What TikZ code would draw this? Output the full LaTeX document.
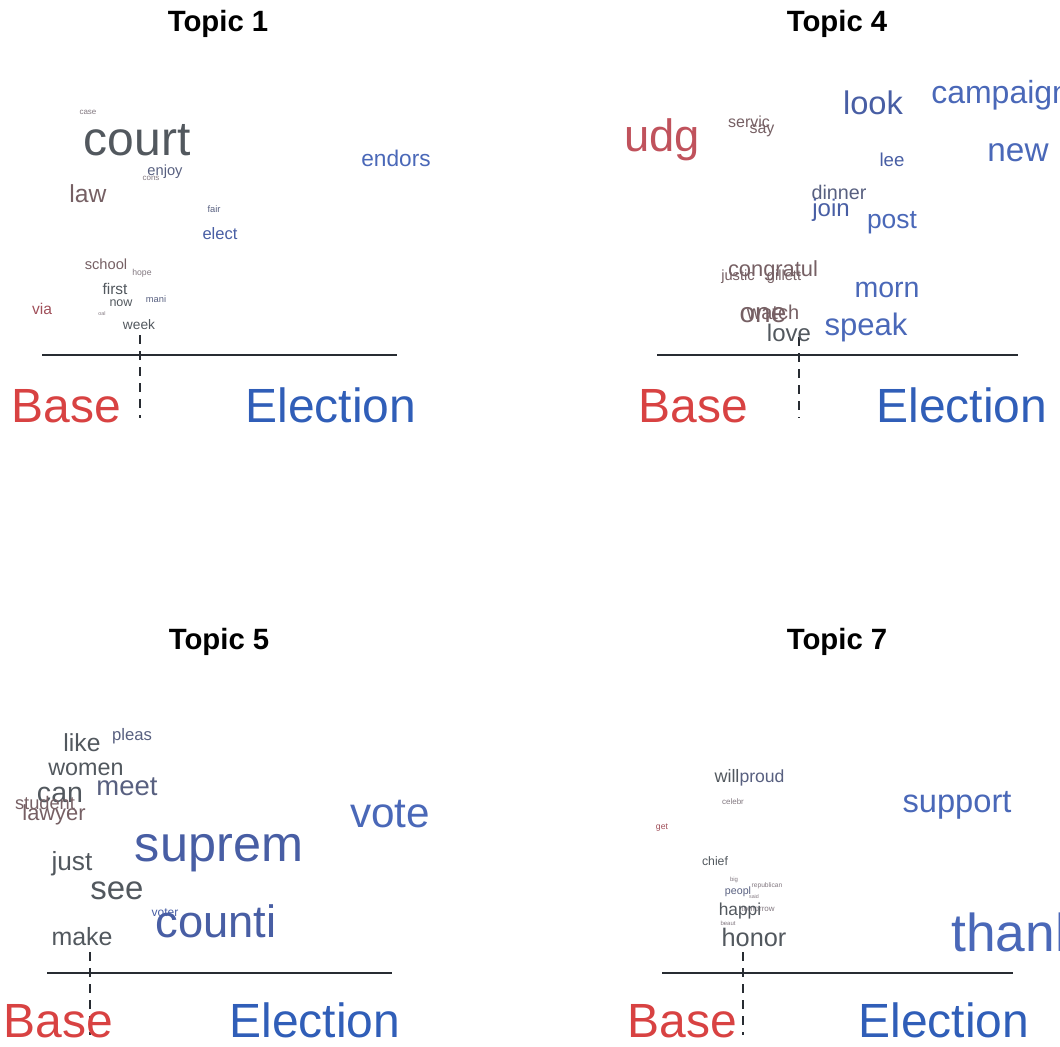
\documentclass[tikz,border=0pt]{standalone}
\usepackage{fontspec}
\setmainfont{Liberation Sans}
\definecolor{cBase}{RGB}{216,66,66}
\definecolor{cElec}{RGB}{48,94,184}
\definecolor{wRed}{RGB}{160,80,90}
\definecolor{wRedS}{RGB}{192,82,92}
\definecolor{wBrown}{RGB}{118,96,100}
\definecolor{wGrey}{RGB}{82,88,94}
\definecolor{wGreyB}{RGB}{88,96,128}
\definecolor{wBlue}{RGB}{72,94,164}
\definecolor{wBlueL}{RGB}{74,104,184}
\definecolor{wLight}{RGB}{130,120,128}
\definecolor{axis}{RGB}{40,44,50}
\tikzset{
  fs/.style={font=\fontsize{#1}{#1}\selectfont},
  wrd/.style={inner sep=0pt, anchor=center},
  ttl/.style={inner sep=0pt, anchor=base, font=\fontsize{22}{22}\selectfont\bfseries},
  lab/.style={inner sep=0pt, anchor=base, font=\fontsize{36}{36}\selectfont},
  hline/.style={draw=axis, line width=1.5pt},
  vline/.style={draw=axis, line width=1.3pt, dash pattern=on 7pt off 5pt},
}
\begin{document}
\begin{tikzpicture}[x=0.75pt,y=-0.75pt]
\useasboundingbox (0,0) rectangle (1060,1046);
\clip (0,0) rectangle (1060,1046);
% ---------------- Topic 1 ----------------
\node[ttl] (t1) at (218,31) {Topic 1};
\coordinate (a1l) at (42,355);
\coordinate (a1r) at (397,355);
\coordinate (d1t) at (140,335);
\coordinate (d1b) at (140,418);
\draw[hline] (a1l) -- (a1r);
\draw[vline] (d1t) -- (d1b);
\node[lab, text=cBase] (b1) at (66,422) {Base};
\node[lab, text=cElec] (e1) at (331,422) {Election};
\node[wrd, fs=6, text=wLight] (w1a) at (88,112) {case};
\node[wrd, fs=36, text=wGrey] (w1b) at (137,140) {court};
\node[wrd, fs=6, text=wLight] (w1c) at (151,178) {cons};
\node[wrd, fs=11, text=wGreyB] (w1d) at (165,172) {enjoy};
\node[wrd, fs=18.5, text=wBrown] (w1e) at (88,194) {law};
\node[wrd, fs=17, text=wBlueL] (w1f) at (396,158) {endors};
\node[wrd, fs=7, text=wGreyB] (w1g) at (214,209) {fair};
\node[wrd, fs=12.4, text=wBlue] (w1h) at (220,234) {elect};
\node[wrd, fs=11, text=wBrown] (w1i) at (106,264) {school};
\node[wrd, fs=6.5, text=wLight] (w1j) at (142,273) {hope};
\node[wrd, fs=11.6, text=wGrey] (w1k) at (115,289) {first};
\node[wrd, fs=9.4, text=wGrey] (w1l) at (121,303) {now};
\node[wrd, fs=7, text=wGreyB] (w1m) at (156,299) {mani};
\node[wrd, fs=11.7, text=wRed] (w1n) at (42,309) {via};
\node[wrd, fs=4, text=wLight] (w1o) at (102,314) {oal};
\node[wrd, fs=10.3, text=wGrey] (w1p) at (139,325) {week};
% ---------------- Topic 4 ----------------
\node[ttl] (t4) at (837,31) {Topic 4};
\coordinate (a4l) at (657,355);
\coordinate (a4r) at (1018,355);
\coordinate (d4t) at (799,337);
\coordinate (d4b) at (799,418);
\draw[hline] (a4l) -- (a4r);
\draw[vline] (d4t) -- (d4b);
\node[lab, text=cBase] (b4) at (693,422) {Base};
\node[lab, text=cElec] (e4) at (962,422) {Election};
\node[wrd, fs=34, text=wRedS] (w4a) at (662,140) {udg};
\node[wrd, fs=12, text=wBrown] (w4b) at (749,122) {servic};
\node[wrd, fs=12, text=wBrown] (w4c) at (762,131) {say};
\node[wrd, fs=24.5, text=wBlue] (w4d) at (873,103) {look};
\node[wrd, fs=24, text=wBlueL, anchor=west] (w4e) at (931,95) {campaign};
\node[wrd, fs=25, text=wBlueL] (w4f) at (1018,153) {new};
\node[wrd, fs=14, text=wBlue] (w4g) at (892,160) {lee};
\node[wrd, fs=14.8, text=wGreyB] (w4h) at (839,192) {dinner};
\node[wrd, fs=18, text=wBlue] (w4i) at (831,210) {join};
\node[wrd, fs=19.8, text=wBlueL] (w4j) at (892,223) {post};
\node[wrd, fs=11, text=wBrown] (w4k) at (738,277) {justic};
\node[wrd, fs=11, text=wBrown] (w4l) at (784,277) {gillett};
\node[wrd, fs=16.4, text=wBrown] (w4m) at (773,271) {congratul};
\node[wrd, fs=21.4, text=wBlueL] (w4n) at (887,290) {morn};
\node[wrd, fs=15, text=wBrown] (w4o) at (773,312) {watch};
\node[wrd, fs=21, text=wBrown] (w4p) at (763,315) {one};
\node[wrd, fs=18, text=wGrey] (w4q) at (789,333) {love};
\node[wrd, fs=23.3, text=wBlueL] (w4r) at (866,327) {speak};
% ---------------- Topic 5 ----------------
\node[ttl] (t5) at (219,649) {Topic 5};
\coordinate (a5l) at (47,973);
\coordinate (a5r) at (392,973);
\coordinate (d5t) at (90,952);
\coordinate (d5b) at (90,1035);
\draw[hline] (a5l) -- (a5r);
\draw[vline] (d5t) -- (d5b);
\node[lab, text=cBase] (b5) at (58,1037) {Base};
\node[lab, text=cElec] (e5) at (315,1037) {Election};
\node[wrd, fs=18.5, text=wGrey] (w5a) at (82,743) {like};
\node[wrd, fs=12.5, text=wGreyB] (w5b) at (132,736) {pleas};
\node[wrd, fs=17.5, text=wGrey] (w5c) at (86,769) {women};
\node[wrd, fs=20.6, text=wGreyB] (w5d) at (127,787) {meet};
\node[wrd, fs=21.4, text=wGrey] (w5e) at (60,795) {can};
\node[wrd, fs=13.7, text=wBrown] (w5f) at (45,803) {student};
\node[wrd, fs=16.4, text=wBrown] (w5g) at (54,815) {lawyer};
\node[wrd, fs=31.7, text=wBlueL] (w5h) at (390,814) {vote};
\node[wrd, fs=37.8, text=wBlue] (w5i) at (219,853) {suprem};
\node[wrd, fs=19.7, text=wGrey] (w5j) at (72,864) {just};
\node[wrd, fs=24.7, text=wGrey] (w5k) at (117,891) {see};
\node[wrd, fs=9, text=wBlue] (w5l) at (165,913) {voter};
\node[wrd, fs=34, text=wBlue] (w5m) at (216,921) {counti};
\node[wrd, fs=18.7, text=wGrey] (w5n) at (82,937) {make};
% ---------------- Topic 7 ----------------
\node[ttl] (t7) at (837,649) {Topic 7};
\coordinate (a7l) at (662,973);
\coordinate (a7r) at (1013,973);
\coordinate (d7t) at (743,952);
\coordinate (d7b) at (743,1035);
\draw[hline] (a7l) -- (a7r);
\draw[vline] (d7t) -- (d7b);
\node[lab, text=cBase] (b7) at (682,1037) {Base};
\node[lab, text=cElec] (e7) at (944,1037) {Election};
\node[wrd, fs=13.5, text=wGrey] (w7a) at (727,776) {will};
\node[wrd, fs=13.2, text=wGreyB] (w7b) at (762,778) {proud};
\node[wrd, fs=6, text=wLight] (w7c) at (733,802) {celebr};
\node[wrd, fs=6.5, text=wRed] (w7d) at (662,828) {get};
\node[wrd, fs=24.5, text=wBlueL] (w7e) at (957,805) {support};
\node[wrd, fs=9.2, text=wGrey] (w7f) at (715,861) {chief};
\node[wrd, fs=4.5, text=wLight] (w7g) at (734,880) {big};
\node[wrd, fs=5, text=wLight] (w7h) at (767,886) {republican};
\node[wrd, fs=8, text=wGreyB] (w7i) at (738,892) {peopl};
\node[wrd, fs=4, text=wLight] (w7j) at (754,897) {said};
\node[wrd, fs=6, text=wLight] (w7k) at (758,909) {tomorrow};
\node[wrd, fs=13, text=wGrey] (w7l) at (740,911) {happi};
\node[wrd, fs=4.5, text=wLight] (w7m) at (728,923) {beaut};
\node[wrd, fs=19, text=wGrey] (w7n) at (754,937) {honor};
\node[wrd, fs=40, text=wBlueL, anchor=west] (w7o) at (951,932) {thank};
\end{tikzpicture}
\end{document}
